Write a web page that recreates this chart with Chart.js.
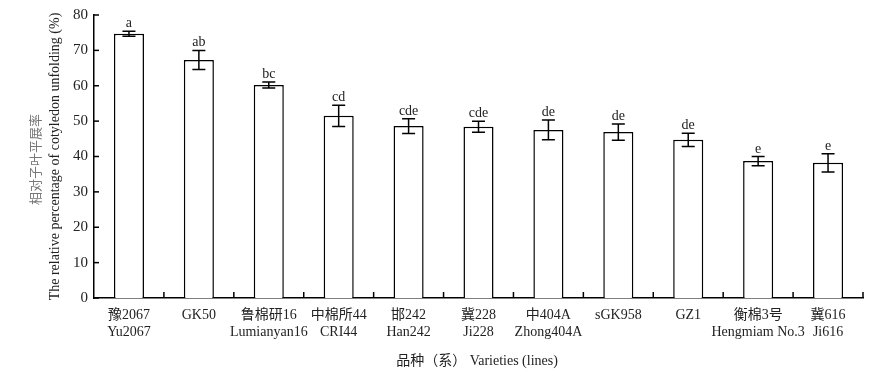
<!DOCTYPE html>
<html>
<head>
<meta charset="utf-8">
<script src="https://cdn.jsdelivr.net/npm/chart.js@4"></script>
<style>
  html, body { margin: 0; padding: 0; background: #fff; }
  #wrap { width: 882px; height: 385px; }
</style>
</head>
<body>
<div id="wrap"><canvas id="c"></canvas></div>
<script>
const varietiesCn = ['豫2067', 'GK50', '鲁棉研16', '中棉所44', '邯242', '冀228', '中404A', 'sGK958', 'GZ1', '衡棉3号', '冀616'];
const varietiesEn = ['Yu2067', '', 'Lumianyan16', 'CRI44', 'Han242', 'Ji228', 'Zhong404A', '', '', 'Hengmiam No.3', 'Ji616'];
const unfolding = [74.7, 67.3, 60.2, 51.5, 48.6, 48.4, 47.5, 46.9, 44.7, 38.7, 38.2];
const errors = [0.7, 2.7, 0.85, 3.0, 2.1, 1.55, 2.8, 2.3, 1.85, 1.3, 2.55];
const letters = ['a', 'ab', 'bc', 'cd', 'cde', 'cde', 'de', 'de', 'de', 'e', 'e'];
const yTicks = [0, 10, 20, 30, 40, 50, 60, 70, 80];

const FONT = '"Liberation Serif", "Noto Sans CJK SC", serif';
const labels = varietiesCn.map((cn, i) => varietiesEn[i] ? [cn, varietiesEn[i]] : cn);

const decorations = {
  id: 'decorations',
  afterDatasetsDraw(chart) {
    const ctx = chart.ctx;
    const x = chart.scales.x;
    const y = chart.scales.y;
    const area = chart.chartArea;
    ctx.save();
    ctx.strokeStyle = '#000';
    ctx.lineWidth = 1.5;
    // error bars + significance letters
    unfolding.forEach((v, i) => {
      const cx = x.getPixelForValue(i);
      const top = y.getPixelForValue(v + errors[i]);
      const bot = y.getPixelForValue(v - errors[i]);
      ctx.beginPath();
      ctx.moveTo(cx, top); ctx.lineTo(cx, bot);
      ctx.moveTo(cx - 6.5, top); ctx.lineTo(cx + 6.5, top);
      ctx.moveTo(cx - 6.5, bot); ctx.lineTo(cx + 6.5, bot);
      ctx.stroke();
      ctx.fillStyle = '#222';
      ctx.font = '14px ' + FONT;
      ctx.textAlign = 'center';
      ctx.textBaseline = 'alphabetic';
      ctx.fillText(letters[i], cx, top - 4);
    });
    // inward ticks on y axis
    yTicks.forEach(t => {
      const py = y.getPixelForValue(t);
      ctx.beginPath();
      ctx.moveTo(area.left, py); ctx.lineTo(area.left + 5, py);
      ctx.stroke();
    });
    // inward ticks on x axis at category boundaries
    const step = x.getPixelForValue(1) - x.getPixelForValue(0);
    for (let i = 0; i < unfolding.length; i++) {
      const px = x.getPixelForValue(i) + step / 2;
      ctx.beginPath();
      ctx.moveTo(px, area.bottom); ctx.lineTo(px, area.bottom - 6);
      ctx.stroke();
    }
    // axis titles
    const midY = (area.top + area.bottom) / 2;
    ctx.save();
    ctx.translate(35, midY + 3);
    ctx.rotate(-Math.PI / 2);
    ctx.textAlign = 'center';
    ctx.textBaseline = 'middle';
    ctx.fillStyle = '#777';
    ctx.font = '13px "Noto Sans CJK SC", sans-serif';
    ctx.fillText('相对子叶平展率', 0, 0);
    ctx.restore();
    ctx.save();
    ctx.translate(55, midY);
    ctx.rotate(-Math.PI / 2);
    ctx.textAlign = 'center';
    ctx.textBaseline = 'middle';
    ctx.fillStyle = '#222';
    ctx.font = '14px ' + FONT;
    ctx.fillText('The relative percentage of cotyledon unfolding (%)', 0, 0);
    ctx.restore();
    ctx.textAlign = 'center';
    ctx.textBaseline = 'middle';
    ctx.fillStyle = '#222';
    ctx.font = '14px ' + FONT;
    ctx.fillText('品种（系） Varieties (lines)', 477, 361);
    ctx.restore();
  }
};

new Chart(document.getElementById('c'), {
  type: 'bar',
  data: {
    labels: labels,
    datasets: [{
      data: unfolding,
      backgroundColor: '#fff',
      borderColor: '#000',
      borderWidth: 1.5,
      categoryPercentage: 1,
      barPercentage: 0.43
    }]
  },
  options: {
    responsive: true,
    maintainAspectRatio: false,
    animation: false,
    layout: { padding: { top: 15, right: 19, left: 0, bottom: 0 } },
    plugins: { legend: { display: false }, tooltip: { enabled: false } },
    scales: {
      x: {
        afterFit(scale) { scale.height = 87; },
        grid: { display: false, drawTicks: false },
        border: { display: true, color: '#000', width: 1.5 },
        ticks: {
          color: '#222',
          padding: 9,
          maxRotation: 0,
          autoSkip: false,
          font: { family: FONT, size: 14 }
        }
      },
      y: {
        min: 0,
        max: 80,
        afterFit(scale) { scale.width = 94; },
        grid: { display: false, drawTicks: false },
        border: { display: true, color: '#000', width: 1.5 },
        ticks: {
          stepSize: 10,
          color: '#222',
          padding: 6,
          font: { family: FONT, size: 15 }
        }
      }
    }
  },
  plugins: [decorations]
});
</script>
</body>
</html>
